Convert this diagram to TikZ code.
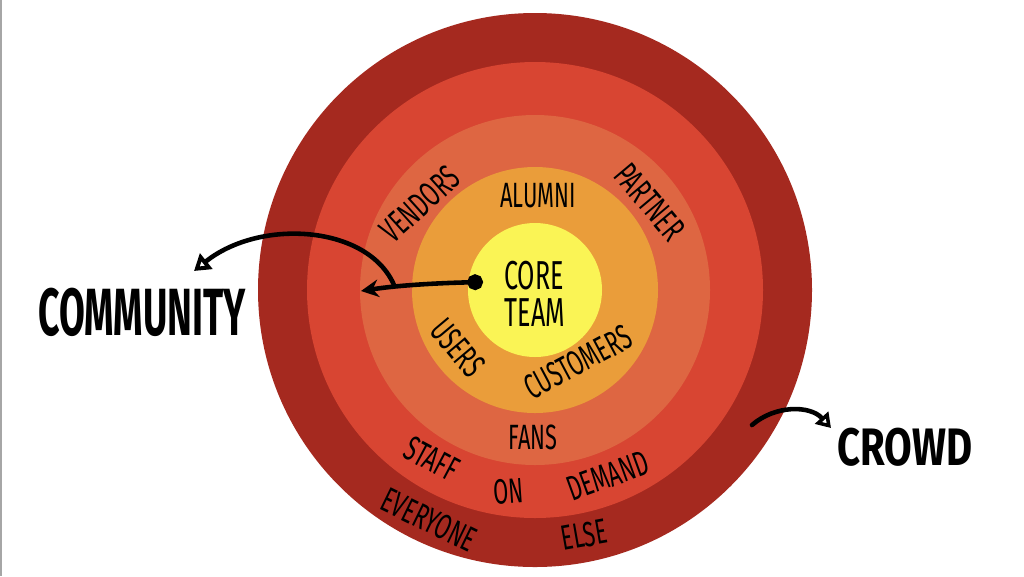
\documentclass[tikz,border=0pt]{standalone}
\usepackage{fontspec}
\setmainfont{Fira Sans}
\newfontfamily\handfont[FakeStretch=0.62]{Fira Sans}
\newfontfamily\communityfont[FakeStretch=0.56]{Fira Sans}
\newfontfamily\crowdfont[FakeStretch=0.76]{Fira Sans}
\usepackage{xcolor}
\usepackage{tikz}
\usetikzlibrary{arrows.meta}
\definecolor{ring_crowd}{HTML}{A5291F}
\definecolor{ring_staff}{HTML}{D84532}
\definecolor{ring_fans}{HTML}{DE6642}
\definecolor{ring_users}{HTML}{EA9D3A}
\definecolor{ring_core}{HTML}{FAF455}

\begin{document}
\begin{tikzpicture}[x=0.02cm, y=-0.02cm,
    ringtext/.style={font=\handfont\fontsize{20}{20}\selectfont},
    coretext/.style={font=\handfont\fontsize{23}{23}\selectfont},
    hand/.style={line width=2.6pt, line cap=round}]

    % Fix the page size
    \useasboundingbox (0,0) rectangle (1024,576);
    \fill[white] (0,0) rectangle (1024,576);
    \draw[black!35, line width=1pt] (1,0) -- (1,576);

    % Draw the rings, outside in
    \coordinate (centre) at (535,290);
    \fill[ring_crowd] (centre) circle (277);
    \fill[ring_staff] (centre) circle (228);
    \fill[ring_fans]  (centre) circle (175);
    \fill[ring_users] (centre) circle (123);
    \fill[ring_core]  (centre) circle (67);

    % Labels in the rings
    \node[coretext] (core) at (534,276) {CORE};
    \node[coretext] (team) at (535,313) {TEAM};

    \node[ringtext] (alumni) at (538,196) {ALUMNI};
    \node[ringtext, rotate=-50] (users) at (458,348) {USERS};
    \node[ringtext, rotate=28] (customers) at (578,362) {CUSTOMERS};

    \node[ringtext, rotate=42] (vendors) at (420,204) {VENDORS};
    \node[ringtext, rotate=-50] (partner) at (650,202) {PARTNER};
    \node[ringtext] (fans) at (533,437) {FANS};

    \node[ringtext, rotate=-28] (staff) at (432,459) {STAFF};
    \node[ringtext, rotate=4] (on) at (509,491) {ON};
    \node[ringtext, rotate=20] (demand) at (608,476) {DEMAND};

    \node[ringtext, rotate=-26] (everyone) at (429,520) {EVERYONE};
    \node[ringtext, rotate=10] (else) at (584,535) {ELSE};

    % Outside labels
    \node[font=\communityfont\fontsize{38}{38}\selectfont\bfseries] (community) at (142,312) {COMMUNITY};
    \node[font=\crowdfont\fontsize{30}{30}\selectfont\bfseries] (crowd) at (905,447) {CROWD};

    % Arrow from the core team out to the community
    \coordinate (coredot) at (483,282);
    \coordinate (comring) at (361,291);
    \coordinate (branch) at (394,285);
    \coordinate (comtip) at (194,271);
    \draw[hand, {Circle[length=9pt]}-{Stealth[length=10pt, width=10pt]}]
        (coredot) .. controls (440,283) and (400,285) .. (comring);
    \draw[hand, -{Triangle[open, length=9pt, width=11pt]}]
        (branch) .. controls (368,225) and (260,218) .. (comtip);

    % Arrow out to the crowd
    \coordinate (crowdfrom) at (752,425);
    \coordinate (crowdtip) at (831,428);
    \draw[hand, -{Triangle[open, length=8pt, width=10pt]}]
        (crowdfrom) .. controls (775,405) and (810,405) .. (crowdtip);

\end{tikzpicture}
\end{document}
